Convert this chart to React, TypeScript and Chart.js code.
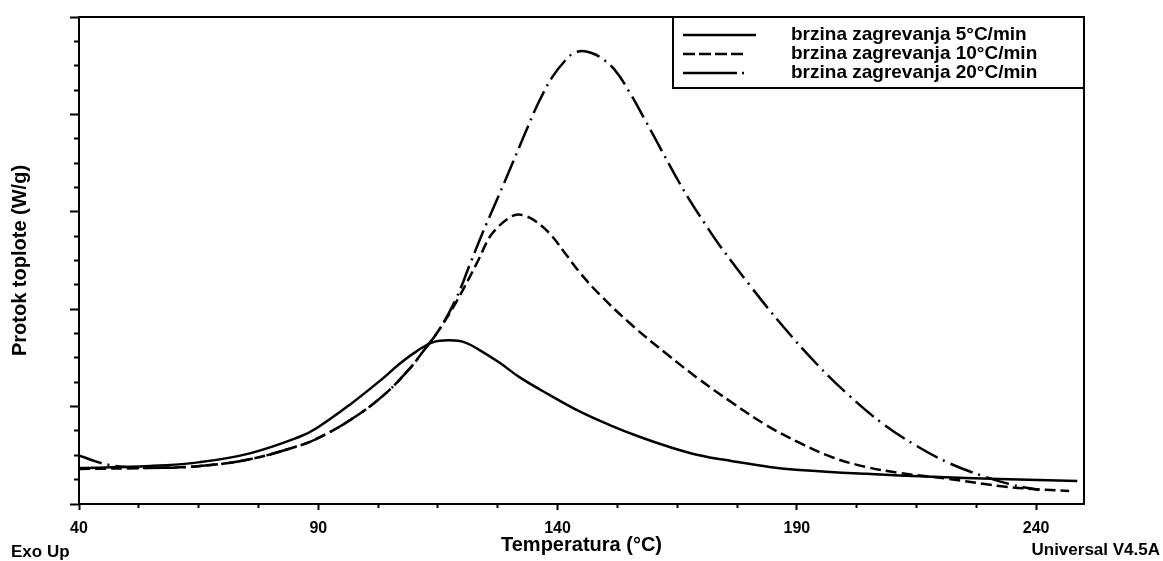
import React, { useEffect, useRef } from 'react';
import { Chart, registerables } from 'chart.js';

Chart.register(...registerables);

// ---------- data ----------
const seriesLabels = [
  'brzina zagrevanja 5°C/min',
  'brzina zagrevanja 10°C/min',
  'brzina zagrevanja 20°C/min',
];

const temps5 = [40, 54.8, 65.3, 75.7, 86.1, 89.7, 96.6, 103.5, 107.0, 110.6, 113.9, 117.5, 120.6, 123.7, 127.9, 132.1, 138.3, 144.6, 150.9, 157.1, 163.4, 169.6, 176.5, 184.3, 190.5, 204.5, 218.3, 232.3, 248.6];
const heat5 = [0.37, 0.39, 0.43, 0.52, 0.69, 0.78, 1.02, 1.29, 1.44, 1.57, 1.66, 1.68, 1.66, 1.58, 1.45, 1.30, 1.12, 0.95, 0.81, 0.69, 0.585, 0.50, 0.44, 0.38, 0.35, 0.31, 0.28, 0.257, 0.236];

const temps10 = [40, 54.8, 65.3, 75.7, 86.1, 89.7, 96.6, 103.5, 109.1, 111.8, 115.4, 118.9, 123.1, 125.8, 127.9, 130.0, 131.4, 133.1, 135.2, 138.3, 141.5, 144.6, 148.8, 155.7, 162.8, 169.6, 176.5, 183.6, 190.5, 197.4, 204.5, 211.4, 221.8, 232.3, 239.2, 246.9];
const heat10 = [0.36, 0.37, 0.39, 0.46, 0.60, 0.67, 0.86, 1.11, 1.39, 1.56, 1.80, 2.08, 2.47, 2.74, 2.86, 2.94, 2.97, 2.96, 2.91, 2.78, 2.58, 2.38, 2.15, 1.83, 1.54, 1.28, 1.04, 0.81, 0.63, 0.48, 0.38, 0.32, 0.257, 0.185, 0.154, 0.133];

const temps20 = [40, 43.3, 46.5, 50.6, 54.8, 65.3, 75.7, 86.1, 89.7, 96.6, 103.5, 109.1, 111.8, 115.4, 118.9, 121.6, 124.3, 127.3, 130.6, 133.5, 136.2, 139.0, 141.9, 143.5, 145.2, 147.1, 148.8, 151.9, 155.0, 158.2, 161.3, 164.4, 167.6, 170.7, 173.8, 180.1, 187.0, 194.1, 201.0, 207.8, 214.9, 221.8, 228.7, 234.4, 240.6];
const heat20 = [0.50, 0.44, 0.40, 0.375, 0.37, 0.39, 0.46, 0.60, 0.67, 0.86, 1.11, 1.39, 1.56, 1.80, 2.12, 2.45, 2.78, 3.12, 3.50, 3.84, 4.14, 4.39, 4.57, 4.63, 4.65, 4.63, 4.59, 4.46, 4.23, 3.95, 3.67, 3.39, 3.12, 2.885, 2.66, 2.25, 1.83, 1.44, 1.11, 0.83, 0.60, 0.42, 0.29, 0.205, 0.144];

const xMajorTicks = [40, 90, 140, 190, 240];
const xTickLabels = ['40', '90', '140', '190', '240'];
const yMajorTicks = [0, 1, 2, 3, 4, 5];

const xTitle = 'Temperatura (°C)';
const yTitle = 'Protok toplote (W/g)';
const footLeft = 'Exo Up';
const footRight = 'Universal V4.5A';

// ---------- helpers ----------
const FONT = '"Liberation Sans", Arial, sans-serif';

const toPoints = (xs: number[], ys: number[]) => xs.map((x, i) => ({ x, y: ys[i] }));

const subdivide = (majors: number[], parts: number) => {
  const out: number[] = [];
  for (let i = 0; i < majors.length - 1; i++) {
    const a = majors[i];
    const b = majors[i + 1];
    for (let k = 0; k < parts; k++) out.push(a + ((b - a) * k) / parts);
  }
  out.push(majors[majors.length - 1]);
  return out;
};

const frameAndLegend = {
  id: 'frameAndLegend',
  afterDraw(chart: any, _args: any, opts: any) {
    const { ctx, chartArea } = chart;
    ctx.save();
    ctx.strokeStyle = '#000';
    ctx.lineWidth = 2;
    ctx.setLineDash([]);
    ctx.strokeRect(chartArea.left, chartArea.top, chartArea.right - chartArea.left, chartArea.bottom - chartArea.top);

    const left = opts.left;
    const top = chartArea.top;
    const right = chartArea.right;
    const bottom = opts.bottom;
    ctx.fillStyle = '#fff';
    ctx.fillRect(left, top, right - left, bottom - top);
    ctx.strokeRect(left, top, right - left, bottom - top);

    chart.data.datasets.forEach((ds: any, i: number) => {
      const y = opts.firstY + i * opts.rowGap;
      ctx.save();
      ctx.strokeStyle = '#000';
      ctx.lineWidth = ds.borderWidth;
      ctx.setLineDash(opts.sampleDash[i]);
      ctx.beginPath();
      ctx.moveTo(opts.sampleX, y);
      ctx.lineTo(opts.sampleX + opts.sampleLen[i], y);
      ctx.stroke();
      ctx.restore();
      ctx.fillStyle = '#000';
      ctx.font = `bold 19px ${FONT}`;
      ctx.textBaseline = 'middle';
      ctx.textAlign = 'left';
      ctx.fillText(ds.label, opts.textX, y);
    });
    ctx.restore();
  },
};

export default function App() {
  const canvasRef = useRef<HTMLCanvasElement | null>(null);

  useEffect(() => {
    const canvas = canvasRef.current;
    if (!canvas) return;
    const xTicks = subdivide(xMajorTicks, 4);
    const yTicks = subdivide(yMajorTicks, 4);

    const common = {
      borderColor: '#000',
      borderWidth: 2.5,
      pointRadius: 0,
      fill: false,
      tension: 0.4,
    };

    const chart = new Chart(canvas, {
      type: 'line',
      data: {
        datasets: [
          { ...common, label: seriesLabels[0], data: toPoints(temps5, heat5) },
          { ...common, label: seriesLabels[1], data: toPoints(temps10, heat10), borderDash: [11, 5] },
          { ...common, label: seriesLabels[2], data: toPoints(temps20, heat20), borderDash: [24, 6, 2, 6] },
        ],
      },
      options: {
        responsive: false,
        animation: false,
        devicePixelRatio: 1,
        layout: { padding: { left: 0, top: 17, right: 79, bottom: 0 } },
        plugins: {
          legend: { display: false },
          tooltip: { enabled: false },
          frameAndLegend: {
            left: 673,
            bottom: 88,
            firstY: 35,
            rowGap: 19,
            sampleX: 683,
            sampleLen: [73, 60, 63],
            sampleDash: [[], [12, 4], [54, 5, 2, 100]],
            textX: 791,
          },
        } as any,
        scales: {
          x: {
            type: 'linear',
            position: 'bottom',
            min: 40,
            max: 250,
            afterBuildTicks: (scale: any) => {
              scale.ticks = xTicks.map((v) => ({ value: v }));
            },
            afterFit: (scale: any) => {
              scale.height = 57;
            },
            ticks: {
              autoSkip: false,
              maxRotation: 0,
              padding: 9,
              color: '#000',
              font: { family: FONT, weight: 'bold', size: 16 },
              callback: (v: any) => {
                const idx = xMajorTicks.indexOf(Number(v));
                return idx >= 0 ? xTickLabels[idx] : '';
              },
            },
            grid: {
              drawOnChartArea: false,
              drawTicks: true,
              tickLength: 6,
              tickColor: '#000',
              tickWidth: 2,
              tickBorderDash: (ctx: any) =>
                xMajorTicks.includes(ctx.tick?.value) ? [] : [3, 100],
            },
            border: { color: '#000', width: 2 },
            title: {
              display: true,
              text: xTitle,
              color: '#000',
              font: { family: FONT, weight: 'bold', size: 20 },
              padding: { top: 0, bottom: 4 },
            },
          },
          y: {
            type: 'linear',
            position: 'left',
            min: 0,
            max: 5,
            afterBuildTicks: (scale: any) => {
              scale.ticks = yTicks.map((v) => ({ value: v }));
            },
            afterFit: (scale: any) => {
              scale.width = 79;
            },
            ticks: { display: false },
            grid: {
              drawOnChartArea: false,
              drawTicks: true,
              tickLength: 9,
              tickColor: '#000',
              tickWidth: 2,
              tickBorderDash: (ctx: any) =>
                yMajorTicks.includes(ctx.tick?.value) ? [] : [0, 4, 5, 100],
            },
            border: { color: '#000', width: 2 },
            title: {
              display: true,
              text: yTitle,
              color: '#000',
              font: { family: FONT, weight: 'bold', size: 20 },
              padding: { top: 8, bottom: 0 },
            },
          },
        },
      } as any,
      plugins: [frameAndLegend as any],
    });
    return () => chart.destroy();
  }, []);

  const footStyle: React.CSSProperties = {
    position: 'absolute',
    fontFamily: FONT,
    fontWeight: 'bold',
    fontSize: 17,
    lineHeight: '20px',
    color: '#000',
    whiteSpace: 'nowrap',
  };

  return (
    <div style={{ position: 'fixed', left: 0, top: 0, width: 1163, height: 561, background: '#fff' }}>
      <canvas ref={canvasRef} width={1163} height={561} style={{ display: 'block', width: 1163, height: 561 }} />
      <div style={{ ...footStyle, left: 11, top: 542 }}>{footLeft}</div>
      <div style={{ ...footStyle, right: 3, top: 540 }}>{footRight}</div>
    </div>
  );
}
